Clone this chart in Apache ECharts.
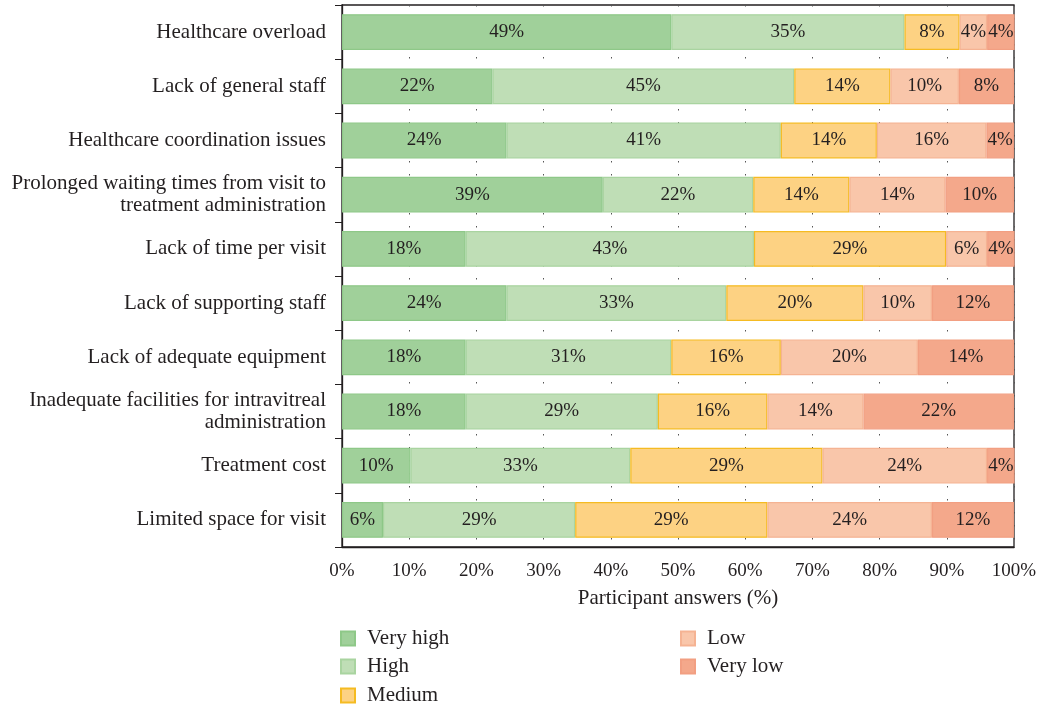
<!DOCTYPE html>
<html>
<head>
<meta charset="utf-8">
<script src="https://cdn.jsdelivr.net/npm/echarts@6/dist/echarts.min.js"></script>
<style>html,body{margin:0;padding:0;background:#fff;}#c{width:1041px;height:707px;}</style>
</head>
<body>
<div id="c"></div>
<script>
const categories = [
  'Healthcare overload',
  'Lack of general staff',
  'Healthcare coordination issues',
  'Prolonged waiting times from visit to\ntreatment administration',
  'Lack of time per visit',
  'Lack of supporting staff',
  'Lack of adequate equipment',
  'Inadequate facilities for intravitreal\nadministration',
  'Treatment cost',
  'Limited space for visit'
];
const seriesNames = ['Very high', 'High', 'Medium', 'Low', 'Very low'];
const veryHigh = [49.0, 22.4, 24.49, 38.8, 18.4, 24.49, 18.4, 18.4, 10.2, 6.1];
const high     = [34.7, 44.9, 40.8, 22.4, 42.9, 32.7, 30.6, 28.6, 32.7, 28.6];
const medium   = [8.2, 14.3, 14.3, 14.3, 28.6, 20.4, 16.3, 16.3, 28.6, 28.6];
const low      = [4.1, 10.2, 16.3, 14.3, 6.1, 10.2, 20.4, 14.3, 24.49, 24.49];
const veryLow  = [4.1, 8.2, 4.1, 10.2, 4.1, 12.2, 14.3, 22.4, 4.1, 12.2];
const xTicks = [0, 10, 20, 30, 40, 50, 60, 70, 80, 90, 100];

const fills   = ['#a0d09a', '#bfdeb6', '#fdd283', '#f9c6aa', '#f4a88b'];
const borders = ['#8ec888', '#a9d4a0', '#f5bb22', '#f5b393', '#f29f82'];
const values = [veryHigh, high, medium, low, veryLow];
const FONT = 'Liberation Serif';

const series = seriesNames.map((n, i) => ({
  name: n,
  type: 'bar',
  stack: 'total',
  barWidth: '66%',
  data: values[i],
  itemStyle: { color: fills[i], borderColor: borders[i], borderWidth: 1.2 },
  label: {
    show: true, position: 'inside', color: '#231f20',
    fontFamily: FONT, fontSize: 19,
    formatter: p => Math.round(p.value) + '%'
  },
  emphasis: { disabled: true }
}));

const legendPos = [
  { left: 340, top: 628 }, { left: 340, top: 656 }, { left: 340, top: 685 },
  { left: 680, top: 628 }, { left: 680, top: 656 }
];
const legends = seriesNames.map((n, i) => ({
  data: [n], left: legendPos[i].left, top: legendPos[i].top, padding: 0,
  icon: 'rect', itemWidth: 14, itemHeight: 14,
  textStyle: { fontFamily: FONT, fontSize: 21, color: '#231f20', padding: [0, 0, 0, 7] }
}));

const chart = echarts.init(document.getElementById('c'), null, { renderer: 'canvas' });
chart.setOption({
  animation: false,
  textStyle: { fontFamily: FONT },
  grid: {
    left: 342, top: 5, width: 672, height: 542, containLabel: false,
    show: true, borderColor: '#231f20', borderWidth: 1.3, backgroundColor: 'transparent'
  },
  xAxis: {
    type: 'value', min: 0, max: 100, interval: 10,
    name: 'Participant answers (%)', nameLocation: 'middle', nameGap: 41,
    nameTextStyle: { fontFamily: FONT, fontSize: 21, color: '#231f20' },
    axisLine: { show: true, lineStyle: { color: '#231f20', width: 1.3 } },
    axisTick: { show: false },
    axisLabel: { fontFamily: FONT, fontSize: 19, color: '#231f20', margin: 15,
      formatter: v => v + '%' },
    splitLine: { show: true, lineStyle: { color: '#555', type: [1.5, 11.5], width: 1 } }
  },
  yAxis: {
    type: 'category', data: categories, inverse: true,
    axisLine: { show: true, lineStyle: { color: '#231f20', width: 1.3 } },
    axisTick: { show: true, length: 7, lineStyle: { color: '#231f20' } },
    axisLabel: { fontFamily: FONT, fontSize: 21, color: '#231f20', margin: 16,
      align: 'right', lineHeight: 22, padding: [4, 0, 0, 0] },
    splitLine: { show: false }
  },
  legend: legends,
  series: series
});
</script>
</body>
</html>
